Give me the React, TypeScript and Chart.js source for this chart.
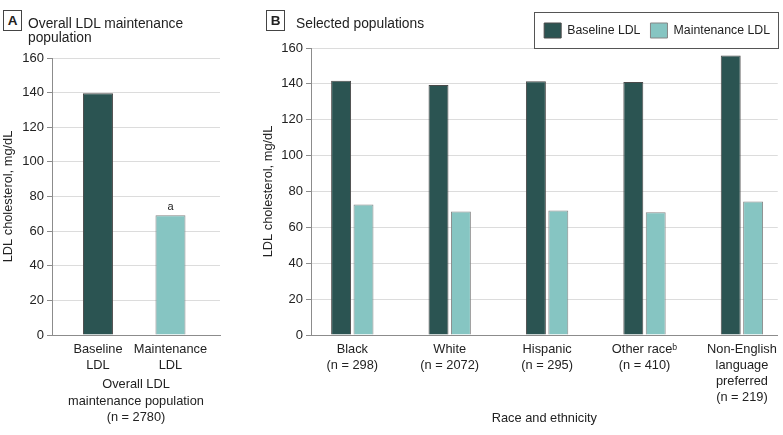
import React, { useEffect, useRef } from "react";
import { Chart, registerables } from "chart.js";

Chart.register(...registerables);

// ---------- data ----------
const overallCategories: string[][] = [["Baseline", "LDL"], ["Maintenance", "LDL"]];
const overallValues: number[] = [139.7, 69.2];
const overallFootnotes: string[] = ["", "a"];
const overallAxisTitle: string[] = ["Overall LDL", "maintenance population", "(n = 2780)"];

const groupCategories: string[][] = [
  ["Black", "(n = 298)"],
  ["White", "(n = 2072)"],
  ["Hispanic", "(n = 295)"],
  ["Other race\u1D47", "(n = 410)"],
  ["Non-English", "language", "preferred", "(n = 219)"],
];
const baselineValues: number[] = [141.7, 139.4, 141.4, 141.0, 155.8];
const maintenanceValues: number[] = [72.7, 68.8, 69.4, 68.4, 74.4];
const seriesNames: string[] = ["Baseline LDL", "Maintenance LDL"];
const groupAxisTitle = "Race and ethnicity";

const yAxisTitle = "LDL cholesterol, mg/dL";
const yMin = 0;
const yMax = 160;
const yStep = 20;

const panelATitle = ["Overall LDL maintenance", "population"];
const panelBTitle = "Selected populations";

// ---------- styles ----------
const FONT = "'Liberation Sans', Arial, sans-serif";
const AXIS_FONT_SIZE = 12.8;
const DARK = "#2b5452";
const DARK_BORDER = "#4a4a4a";
const LIGHT = "#86c5c2";
const LIGHT_BORDER = "#858585";
const GRID = "#dcdcdc";
const AXIS = "#8c8c8c";
const TEXT = "#222222";

const footnotePlugin = {
  id: "footnoteA",
  afterDatasetsDraw(chart: any) {
    const meta = chart.getDatasetMeta(0);
    const ctx = chart.ctx;
    ctx.save();
    ctx.font = `11px ${FONT}`;
    ctx.fillStyle = TEXT;
    ctx.textAlign = "center";
    ctx.textBaseline = "bottom";
    meta.data.forEach((bar: any, i: number) => {
      const t = overallFootnotes[i];
      if (t) ctx.fillText(t, bar.x, bar.y - 3);
    });
    ctx.restore();
  },
};

const legendFramePlugin = {
  id: "legendFrame",
  afterDraw(chart: any) {
    const hb = chart.legend && chart.legend.legendHitBoxes;
    if (!hb || !hb.length) return;
    const first = hb[0];
    const last = hb[hb.length - 1];
    const left = first.left - 10;
    const right = last.left + last.width + 8;
    const top = first.top - 11;
    const bottom = first.top + first.height + 10;
    const ctx = chart.ctx;
    ctx.save();
    ctx.strokeStyle = "#555555";
    ctx.lineWidth = 1;
    ctx.strokeRect(Math.round(left) + 0.5, Math.round(top) + 0.5, Math.round(right - left), Math.round(bottom - top));
    ctx.restore();
  },
};

function yScale(width: number) {
  return {
    min: yMin,
    max: yMax,
    ticks: { stepSize: yStep, padding: 3, color: TEXT, font: { size: 13, family: FONT } },
    grid: { color: GRID, tickColor: AXIS, tickLength: 5, lineWidth: 1 },
    border: { display: true, color: AXIS, width: 1 },
    title: {
      display: true,
      text: yAxisTitle,
      color: TEXT,
      font: { size: AXIS_FONT_SIZE, family: FONT, lineHeight: 1.2 },
      padding: { top: 1, bottom: 0 },
    },
    afterFit: (s: any) => {
      s.width = width;
    },
  };
}

function ChartA() {
  const ref = useRef<HTMLCanvasElement | null>(null);
  useEffect(() => {
    if (!ref.current) return;
    const chart = new Chart(ref.current, {
      type: "bar",
      data: {
        datasets: [
          {
            data: overallValues.map((v, i) => ({ x: i, y: v })),
            backgroundColor: [DARK, LIGHT],
            borderColor: [DARK_BORDER, LIGHT_BORDER],
            borderWidth: 1,
            categoryPercentage: 30 / 72.5,
            barPercentage: 1,
          } as any,
        ],
      },
      options: {
        animation: false,
        responsive: false,
        maintainAspectRatio: false,
        layout: { padding: { top: 58, right: 40, bottom: 0, left: 0 } },
        plugins: { legend: { display: false }, tooltip: { enabled: false } },
        scales: {
          x: {
            type: "linear",
            min: -0.634,
            max: 1.683,
            offset: false,
            grid: { display: false, drawTicks: false },
            border: { display: true, color: AXIS, width: 1 },
            afterBuildTicks: (s: any) => {
              s.ticks = overallCategories.map((_, i) => ({ value: i }));
            },
            ticks: {
              autoSkip: false,
              maxRotation: 0,
              padding: 6,
              color: TEXT,
              font: { size: AXIS_FONT_SIZE, family: FONT, lineHeight: "16px" },
              callback: (v: any) => overallCategories[v as number] ?? "",
            },
            title: {
              display: true,
              text: overallAxisTitle,
              color: TEXT,
              font: { size: AXIS_FONT_SIZE, family: FONT, lineHeight: "16.5px" },
              padding: { top: 0, bottom: 9 },
            },
            afterFit: (s: any) => {
              s.height = 100;
            },
          } as any,
          y: yScale(52) as any,
        },
      },
      plugins: [footnotePlugin],
    });
    return () => chart.destroy();
  }, []);
  return (
    <canvas
      ref={ref}
      width={260}
      height={435}
      style={{ position: "absolute", left: 0, top: 0, width: 260, height: 435, display: "block" }}
    />
  );
}

function ChartB() {
  const ref = useRef<HTMLCanvasElement | null>(null);
  useEffect(() => {
    if (!ref.current) return;
    const common = { borderWidth: 1, categoryPercentage: 0.46, barPercentage: 0.89 };
    const chart = new Chart(ref.current, {
      type: "bar",
      data: {
        datasets: [
          {
            label: seriesNames[0],
            data: baselineValues.map((v, i) => ({ x: i, y: v })),
            backgroundColor: DARK,
            borderColor: DARK_BORDER,
            ...common,
          } as any,
          {
            label: seriesNames[1],
            data: maintenanceValues.map((v, i) => ({ x: i, y: v })),
            backgroundColor: LIGHT,
            borderColor: LIGHT_BORDER,
            ...common,
          } as any,
        ],
      },
      options: {
        animation: false,
        responsive: false,
        maintainAspectRatio: false,
        layout: { padding: { top: 13, right: 3, bottom: 0, left: 0 } },
        plugins: {
          tooltip: { enabled: false },
          legend: {
            display: true,
            position: "top",
            align: "end",
            labels: {
              boxWidth: 17,
              boxHeight: 15,
              padding: 10,
              color: TEXT,
              font: { size: 12.3, family: FONT },
            },
          },
        },
        scales: {
          x: {
            type: "linear",
            min: -0.424,
            max: 4.368,
            offset: false,
            grid: { display: false, drawTicks: false },
            border: { display: true, color: AXIS, width: 1 },
            afterBuildTicks: (s: any) => {
              s.ticks = groupCategories.map((_, i) => ({ value: i }));
            },
            ticks: {
              autoSkip: false,
              maxRotation: 0,
              padding: 6,
              color: TEXT,
              font: { size: AXIS_FONT_SIZE, family: FONT, lineHeight: "16px" },
              callback: (v: any) => groupCategories[v as number] ?? "",
            },
            title: {
              display: true,
              text: groupAxisTitle,
              color: TEXT,
              font: { size: AXIS_FONT_SIZE, family: FONT, lineHeight: "16px" },
              padding: { top: 0, bottom: 9 },
            },
            afterFit: (s: any) => {
              s.height = 100;
            },
          } as any,
          y: yScale(51) as any,
        },
      },
      plugins: [legendFramePlugin],
    });
    return () => chart.destroy();
  }, []);
  return (
    <canvas
      ref={ref}
      width={523}
      height={435}
      style={{ position: "absolute", left: 260, top: 0, width: 523, height: 435, display: "block" }}
    />
  );
}

const boxStyle = (left: number): React.CSSProperties => ({
  position: "absolute",
  left,
  top: 10,
  width: 17,
  height: 19,
  border: "1px solid #444",
  fontFamily: FONT,
  fontWeight: "bold",
  fontSize: 13.5,
  lineHeight: "19px",
  textAlign: "center",
  color: TEXT,
  background: "#fff",
});

const titleStyle = (left: number): React.CSSProperties => ({
  position: "absolute",
  left,
  top: 17,
  fontFamily: FONT,
  fontSize: 13.8,
  lineHeight: "14px",
  color: TEXT,
  whiteSpace: "nowrap",
});

export default function App() {
  return (
    <div
      style={{
        position: "absolute",
        left: 0,
        top: 0,
        width: 783,
        height: 435,
        background: "#ffffff",
        overflow: "hidden",
      }}
    >
      <ChartA />
      <ChartB />
      <div style={boxStyle(3)}>A</div>
      <div style={titleStyle(28)}>
        {panelATitle[0]}
        <br />
        {panelATitle[1]}
      </div>
      <div style={boxStyle(266)}>B</div>
      <div style={titleStyle(296)}>{panelBTitle}</div>
    </div>
  );
}
